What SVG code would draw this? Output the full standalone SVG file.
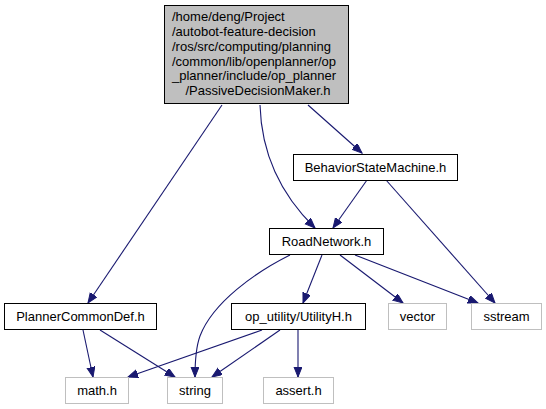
<svg xmlns="http://www.w3.org/2000/svg" width="546" height="409" viewBox="0 0 546 409">
<defs>
<marker id="ah" markerUnits="userSpaceOnUse" markerWidth="12" markerHeight="10" refX="10" refY="4" orient="auto">
<path d="M0,0 L10,4 L0,8 z" fill="#191970" stroke="#191970" stroke-width="1"/>
</marker>
<style>
text{font-family:"Liberation Sans",Arial,Helvetica,sans-serif;font-size:13px;fill:#000}
.c{text-anchor:middle}
.int rect{fill:#fff;stroke:#000;stroke-width:1}
.ext rect{fill:#fff;stroke:#bfbfbf;stroke-width:1}
.top rect{fill:#bfbfbf;stroke:#000;stroke-width:1}
#edges path{fill:none;stroke:#191970;stroke-width:1.1;marker-end:url(#ah)}
</style>
</defs>
<rect width="546" height="409" fill="#fff"/>
<g id="edges">
<path d="M222,105 L88,303"/>
<path d="M260,105 C261,140 271,185 315,228"/>
<path d="M308,105 L362,153"/>
<path d="M367,180 L333,228"/>
<path d="M386,180 L495,303"/>
<path d="M290,255 C256,272 213,302 200,336 C196,347 195,360 195,377"/>
<path d="M322,255 L303,303"/>
<path d="M340,255 L403,303"/>
<path d="M355,255 L478,303"/>
<path d="M83,330 L93,377"/>
<path d="M100,330 L175,377"/>
<path d="M262,330 L128,377"/>
<path d="M280,330 L212,377"/>
<path d="M298,330 L298,377"/>
</g>
<g id="node_top" class="top">
<rect x="164.5" y="5.5" width="184" height="98"/>
<text x="172" y="21">/home/deng/Project</text>
<text x="172" y="36">/autobot-feature-decision</text>
<text x="172" y="50.5">/ros/src/computing/planning</text>
<text x="172" y="65.5">/common/lib/openplanner/op</text>
<text x="172" y="80">_planner/include/op_planner</text>
<text x="258" y="95" class="c">/PassiveDecisionMaker.h</text>
</g>
<g id="node_bsm" class="int">
<rect x="293.5" y="154.5" width="164" height="26"/>
<text x="375.5" y="172" class="c">BehaviorStateMachine.h</text>
</g>
<g id="node_rn" class="int">
<rect x="269.5" y="228.5" width="114" height="26"/>
<text x="326.5" y="246" class="c">RoadNetwork.h</text>
</g>
<g id="node_pcd" class="int">
<rect x="4.5" y="303.5" width="152" height="26"/>
<text x="80.5" y="321" class="c">PlannerCommonDef.h</text>
</g>
<g id="node_util" class="int">
<rect x="231.5" y="303.5" width="134" height="26"/>
<text x="298.5" y="321" class="c">op_utility/UtilityH.h</text>
</g>
<g id="node_vector" class="ext">
<rect x="388.5" y="303.5" width="58" height="26"/>
<text x="417.5" y="321" class="c">vector</text>
</g>
<g id="node_sstream" class="ext">
<rect x="471.5" y="303.5" width="70" height="26"/>
<text x="506.5" y="321" class="c">sstream</text>
</g>
<g id="node_math" class="ext">
<rect x="65.5" y="377.5" width="63" height="26"/>
<text x="97" y="395" class="c">math.h</text>
</g>
<g id="node_string" class="ext">
<rect x="167.5" y="377.5" width="55" height="26"/>
<text x="195" y="395" class="c">string</text>
</g>
<g id="node_assert" class="ext">
<rect x="263.5" y="377.5" width="70" height="26"/>
<text x="298.5" y="395" class="c">assert.h</text>
</g>
</svg>
